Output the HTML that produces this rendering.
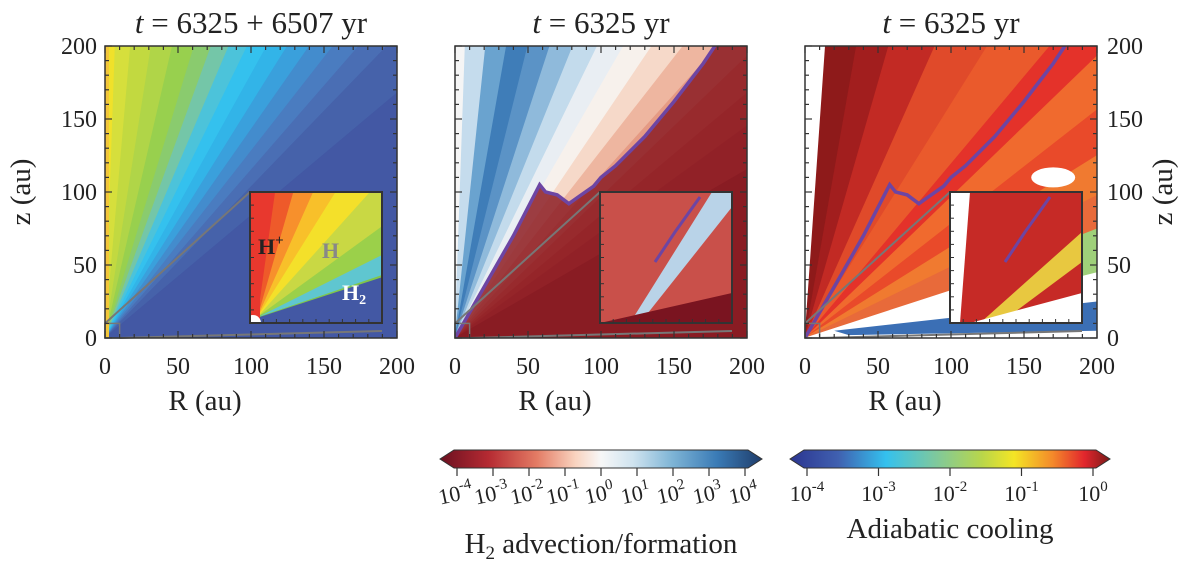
<!DOCTYPE html>
<html><head><meta charset="utf-8"><style>
body{margin:0;background:#fff;width:1200px;height:564px;overflow:hidden}
text{font-family:"Liberation Serif",serif;fill:#222}
</style></head><body>
<svg width="1200" height="564" viewBox="0 0 1200 564">
<defs>
<linearGradient id="rdbu" x1="0" x2="1"><stop offset="0" stop-color="#6b1020"/><stop offset="0.15" stop-color="#b52a32"/><stop offset="0.3" stop-color="#e37b64"/><stop offset="0.42" stop-color="#f9d3bf"/><stop offset="0.5" stop-color="#f7f7f7"/><stop offset="0.6" stop-color="#cfe3ef"/><stop offset="0.72" stop-color="#7fb5d6"/><stop offset="0.86" stop-color="#3a7bb6"/><stop offset="1" stop-color="#1f3d6b"/></linearGradient>
<linearGradient id="jet" x1="0" x2="1"><stop offset="0" stop-color="#2b3590"/><stop offset="0.15" stop-color="#4060b0"/><stop offset="0.3" stop-color="#34c1ee"/><stop offset="0.45" stop-color="#7cc8a0"/><stop offset="0.6" stop-color="#b9d64a"/><stop offset="0.7" stop-color="#f4e525"/><stop offset="0.82" stop-color="#f48a2a"/><stop offset="0.92" stop-color="#e2262d"/><stop offset="1" stop-color="#7a1a18"/></linearGradient>
<clipPath id="c1"><rect x="105" y="46" width="292" height="292"/></clipPath>
<clipPath id="c2"><rect x="455" y="46" width="292" height="292"/></clipPath>
<clipPath id="c3"><rect x="805" y="46" width="292" height="292"/></clipPath>
</defs>
<g id="panels"></g>
<g id="cbars"></g>
</svg>
<script>
const NS='http://www.w3.org/2000/svg';
const root=document.getElementById('panels');
const cb=document.getElementById('cbars');
const ticksMajor=[0,50,100,150,200];
const panelLeft=[105,455,805];
const titles=['t = 6325 + 6507 yr','t = 6325 yr','t = 6325 yr'];
const purpleR=[0,20,40,58,62,70,78,85,95,100,110,120,130,140,150,160,170,178];
const purpleZ=[0,35,70,105,100,98,92,97,104,110,118,128,138,150,162,175,188,200];
const p1Angles=[90,88,85,81,77,73,70,67,64,61,58,55,52,49,46,40,0];
const p1Colors=['#f0e12a','#d6df3c','#c2d940','#b0d548','#98d04e','#8acb6e','#74c6a8','#4cc3da','#34c1ee','#32b4e8','#3aa0dc','#438ccd','#4a7cc0','#4a6eb4','#4662aa','#4358a4'];
const p2Angles=[90,88,84,80,76,72,68,64,60,56,52,48,44,40,36,30,0];
const p2Colors=['#f5f5f5','#c5dced','#6aa3cf','#3f7db8','#5b93c6','#8fbadb','#c3dbec','#e9eef3','#f7f1ec','#f6d9c9','#eeb6a0','#e59a84','#d97260','#c95048','#b13a38','#7a1420'];
const p3Angles=[90,86,80,74,66,58,50,44,38,32,26,18,10,0];
const p3Colors=['#ffffff','#8e1a1a','#a21e1e','#c22a24','#e04a2a','#ea5a2c','#e4322a','#f06a2e','#e94a2a','#f07a30','#e86a3a','#ffffff','#ffffff'];
function el(t,a,p){const e=document.createElementNS(NS,t);for(const k in a)e.setAttribute(k,a[k]);(p||root).appendChild(e);return e;}
const S=292/200;
function X(p,r){return panelLeft[p]+r*S;}
function Y(z){return 338-z*S;}
function wedges(p,angles,colors){
  const g=el('g',{'clip-path':'url(#c'+(p+1)+')'});
  
  
  for(let i=0;i<colors.length;i++){
    const a1=angles[i]*Math.PI/180,a2=angles[i+1]*Math.PI/180,L=400;
    const pts=[[X(p,0),Y(0)],[X(p,L*Math.cos(a1)),Y(L*Math.sin(a1))],[X(p,L*Math.cos(a2)),Y(L*Math.sin(a2))]];
    const w=el('polygon',{points:pts.map(q=>q.join(',')).join(' '),fill:colors[i],stroke:colors[i],'stroke-width':0.8},g);
    
    
  }
  return g;
}
function axes(p,leftLabels,rightLabels){
  const x0=panelLeft[p];
  el('rect',{x:x0,y:46,width:292,height:292,fill:'none',stroke:'#333','stroke-width':1.5});
  for(let v=0;v<=200;v+=10){
    const big=v%50==0,len=big?7:4;
    el('line',{x1:X(p,v),x2:X(p,v),y1:338,y2:338-len,stroke:'#333','stroke-width':1.2});
    el('line',{x1:X(p,v),x2:X(p,v),y1:46,y2:46+len,stroke:'#333','stroke-width':1.2});
    el('line',{x1:x0,x2:x0+len,y1:Y(v),y2:Y(v),stroke:'#333','stroke-width':1.2});
    el('line',{x1:x0+292,x2:x0+292-len,y1:Y(v),y2:Y(v),stroke:'#333','stroke-width':1.2});
  }
  ticksMajor.forEach(v=>{
    const t=el('text',{x:X(p,v),y:374,'font-size':24,'text-anchor':'middle'});t.textContent=v;
    
    if(leftLabels){const u=el('text',{x:x0-8,y:Y(v)+8,'font-size':24,'text-anchor':'end'});u.textContent=v;
      }
    if(rightLabels){const u=el('text',{x:x0+302,y:Y(v)+8,'font-size':24,'text-anchor':'start'});u.textContent=v;
      }
  });
  const xl=el('text',{x:x0+100,y:410,'font-size':29,'text-anchor':'middle'});xl.textContent='R (au)';
  
  const tt=el('text',{x:x0+146,y:33,'font-size':31,'text-anchor':'middle'});tt.innerHTML=titles[p].replace(/^t/,'<tspan font-style="italic">t</tspan>');
  
}
function purple(p){
  const d=purpleR.map((r,i)=>(i?'L':'M')+X(p,r)+','+Y(purpleZ[i])).join(' ');
  const l=el('path',{d:d,fill:'none',stroke:'#6d45a3','stroke-width':3.5,'clip-path':'url(#c'+(p+1)+')'});
  
}
function inset(p,fill){
  const x=panelLeft[p]+145,y=192,w=132,h=131;
  el('line',{x1:X(p,0),y1:Y(10),x2:x,y2:y,stroke:'#777','stroke-width':2});
  el('line',{x1:X(p,10),y1:Y(0),x2:x+w,y2:y+h+8,stroke:'#777','stroke-width':2});
  el('rect',{x:X(p,0),y:Y(10),width:10*S,height:10*S,fill:'none',stroke:'#777','stroke-width':1.5});
  const g=el('g',{});
  
  fill(g,x,y,w,h);
  el('rect',{x:x,y:y,width:w,height:h,fill:'none',stroke:'#333','stroke-width':2},g);
  for(let i=1;i<10;i++){el('line',{x1:x+i*w/10,x2:x+i*w/10,y1:y+h,y2:y+h-4,stroke:'#333'},g);el('line',{x1:x,x2:x+4,y1:y+i*h/10,y2:y+i*h/10,stroke:'#333'},g);}
}
// Panel 1
wedges(0,p1Angles,p1Colors);
el('rect',{x:105,y:46,width:4,height:292,fill:'#f3c63a'});
inset(0,(g,x,y,w,h)=>{
  const cs=['#e8382e','#ee5a2a','#f7902c','#f8c02a','#f4e02a','#c9d844','#9bd04a','#80c64c'];
  const an=[90,82,74,66,58,48,36,24,18];
  const cp=el('clipPath',{id:'ci1'},g);el('rect',{x:x,y:y,width:w,height:h},cp);
  const gg=el('g',{'clip-path':'url(#ci1)'},g);
  el('rect',{x:x,y:y,width:w,height:h,fill:'#4358a4'},gg);
  const ox=x+8,oy=y+h-6;
  cs.forEach((c,i)=>{const a1=an[i]*Math.PI/180,a2=an[i+1]*Math.PI/180;
    el('polygon',{points:`${ox},${oy} ${ox+300*Math.cos(a1)},${oy-300*Math.sin(a1)} ${ox+300*Math.cos(a2)},${oy-300*Math.sin(a2)}`,fill:c,stroke:c},gg);});
  el('polygon',{points:`${ox},${oy} ${x+w},${y+h-68} ${x+w},${y+h-48}`,fill:'#5fc6d0'},gg);
  el('rect',{x:x,y:y,width:10,height:h,fill:'#e8382e'},gg);
  el('circle',{cx:x+3,cy:y+h,r:8,fill:'#fff'},gg);
  let t=el('text',{x:x+8,y:y+62,'font-size':22,'font-weight':'bold',fill:'#333'},g);t.innerHTML='H<tspan dy="-9" font-size="15">+</tspan>';
  t=el('text',{x:x+72,y:y+66,'font-size':22,'font-weight':'bold',style:'fill:#888'},g);t.textContent='H';
  t=el('text',{x:x+92,y:y+108,'font-size':22,'font-weight':'bold',style:'fill:#fff'},g);t.innerHTML='H<tspan dy="4" font-size="14">2</tspan>';
});
axes(0,true,false);
const yl=el('text',{x:30,y:192,'font-size':29,'text-anchor':'middle',transform:'rotate(-90 30 192)'});yl.textContent='z (au)';

// Panel 2
wedges(1,p2Angles,p2Colors);
{const pts=purpleR.map((r,i)=>X(1,r)+','+Y(purpleZ[i])).join(' ')+` ${X(1,210)},${Y(200)} ${X(1,210)},${Y(0)}`;
 el('polygon',{points:pts,fill:'#8c1d24',opacity:0.85,'clip-path':'url(#c2)'});}
purple(1);
inset(1,(g,x,y,w,h)=>{
  el('rect',{x:x,y:y,width:w,height:h,fill:'#c9504a'},g);
  el('polygon',{points:`${x+30},${y+h} ${x+w-20},${y} ${x+w},${y} ${x+w},${y+15} ${x+40},${y+h}`,fill:'#b9d3e8'},g);
  el('polygon',{points:`${x},${y+h} ${x+w},${y+h-30} ${x+w},${y+h}`,fill:'#7a1420'},g);
  el('polyline',{points:`${x+55},${y+70} ${x+75},${y+40} ${x+100},${y+5}`,fill:'none',stroke:'#6d45a3','stroke-width':3},g);
});
axes(1,false,false);
// Panel 3
wedges(2,p3Angles,p3Colors);
el('polygon',{points:`${X(2,110)},${Y(40)} ${X(2,200)},${Y(75)} ${X(2,200)},${Y(45)} ${X(2,140)},${Y(30)}`,fill:'#9fd07a','clip-path':'url(#c3)'});
el('polygon',{points:`${X(2,20)},${Y(5)} ${X(2,200)},${Y(25)} ${X(2,200)},${Y(5)} ${X(2,30)},${Y(2)}`,fill:'#3b6fb5','clip-path':'url(#c3)'});
el('ellipse',{cx:X(2,170),cy:Y(110),rx:22,ry:10,fill:'#fff'});
purple(2);
inset(2,(g,x,y,w,h)=>{
  el('rect',{x:x,y:y,width:w,height:h,fill:'#c62a26'},g);
  el('polygon',{points:`${x},${y} ${x+20},${y} ${x+10},${y+h} ${x},${y+h}`,fill:'#fff'},g);
  el('polygon',{points:`${x+30},${y+h} ${x+w},${y+40} ${x+w},${y+70} ${x+50},${y+h}`,fill:'#e8c840'},g);
  el('polygon',{points:`${x+20},${y+h} ${x+w},${y+h-30} ${x+w},${y+h}`,fill:'#fff'},g);
  el('polyline',{points:`${x+55},${y+70} ${x+75},${y+40} ${x+100},${y+5}`,fill:'none',stroke:'#6d45a3','stroke-width':3},g);
});
axes(2,false,true);
const yr=el('text',{x:1172,y:192,'font-size':29,'text-anchor':'middle',transform:'rotate(-90 1172 192)'});yr.textContent='z (au)';

// colorbars
const cb1Exp=[-4,-3,-2,-1,0,1,2,3,4];
const cb2Exp=[-4,-3,-2,-1,0];
function colorbar(x0,x1,grad,exps,label,name,rot){
  const g=el('g',{},cb);
  
  el('polygon',{points:`${x0},459 ${x0+14},450 ${x1-14},450 ${x1},459 ${x1-14},468 ${x0+14},468`,fill:'url(#'+grad+')',stroke:'#333','stroke-width':1},g);
  const a=x0+17,b=x1-17;
  exps.forEach((e,i)=>{const x=a+(b-a)*i/(exps.length-1);
    el('line',{x1:x,x2:x,y1:468,y2:476,stroke:'#333','stroke-width':1.2},g);
    const t=el('text',{x:x,y:501,'font-size':22,'text-anchor':'middle',transform:rot?`rotate(-12 ${x} 501)`:''},g);
    t.innerHTML='10<tspan dy="-10" font-size="15">'+e+'</tspan>';
    });
  const t=el('text',{x:(x0+x1)/2,y:rot?553:538,'font-size':29,'text-anchor':'middle'},g);t.innerHTML=label;
  
}
colorbar(440,762,'rdbu',cb1Exp,'H<tspan dy="6" font-size="19">2</tspan><tspan dy="-6"> advection/formation</tspan>','colorbar-h2',true);
colorbar(790,1110,'jet',cb2Exp,'Adiabatic cooling','colorbar-adiabatic',false);
</script>
</body></html>
